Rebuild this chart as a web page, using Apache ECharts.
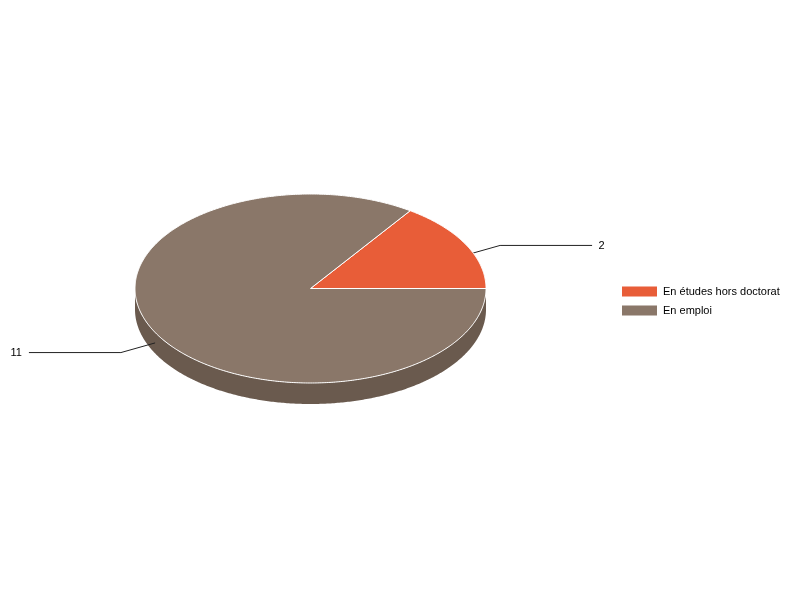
<!DOCTYPE html>
<html>
<head>
<meta charset="utf-8">
<script src="https://cdn.jsdelivr.net/npm/echarts@6/dist/echarts.min.js"></script>
<style>
html, body { margin: 0; padding: 0; background: #fff; }
#main { width: 800px; height: 600px; }
</style>
</head>
<body>
<div id="main"></div>
<script>
var categories = ['En études hors doctorat', 'En emploi'];
var values = [2, 11];
var topColors = ['#E85D38', '#8A7769'];
var sideColors = ['#B5482B', '#6A5A4E'];

var cx = 310.5, cy = 288.5, rx = 175.5, ry = 94.5, depth = 21;

var chart = echarts.init(document.getElementById('main'));

function sliceAngles(i){
	var total = 0, before = 0;
	for (var j = 0; j < values.length; j++){
		total += values[j];
		if (j < i) before += values[j];
	}
	return [before / total * Math.PI * 2, (before + values[i]) / total * Math.PI * 2];
}

function pt(a, dy){
	return [cx + rx * Math.cos(a), cy - ry * Math.sin(a) + (dy || 0)];
}

function arc(a1, a2, dy){
	var pts = [];
	var n = Math.max(2, Math.ceil((a2 - a1) / 0.01));
	for (var k = 0; k <= n; k++){
		pts.push(pt(a1 + (a2 - a1) * k / n, dy));
	}
	return pts;
}

function renderSide(params, api){
	var a = sliceAngles(params.dataIndex);
	var lo = Math.max(a[0], Math.PI), hi = Math.min(a[1], Math.PI * 2);
	if (hi <= lo) return;
	var pts = arc(lo, hi, 0).concat(arc(lo, hi, depth).reverse());
	return {
		type: 'polygon',
		shape: {points: pts},
		style: {fill: sideColors[params.dataIndex], stroke: null}
	};
}

// leader lines sit between the side and the top face
function renderLabel(params, api){
	var a = sliceAngles(params.dataIndex);
	var mid = (a[0] + a[1]) / 2;
	var c = Math.cos(mid), s = Math.sin(mid);
	var anchor = [cx + rx * c, cy - ry * s + depth / 2];
	var elbow = [cx + 1.22 * rx * c, cy - 1.22 * ry * s + depth / 2];
	var right = c >= 0;
	var end = [elbow[0] + (right ? 92 : -92), elbow[1]];
	return {
		type: 'group',
		children: [
			{
				type: 'polyline',
				shape: {points: [anchor, elbow, end]},
				style: {stroke: '#222', lineWidth: 1, fill: null}
			},
			{
				type: 'text',
				style: {
					x: end[0] + (right ? 6.5 : -7),
					y: end[1] + 0.5,
					text: String(api.value(0)),
					align: right ? 'left' : 'right',
					verticalAlign: 'middle',
					fill: '#000',
					font: '11px "Liberation Sans", Arial, sans-serif'
				}
			}
		]
	};
}

function renderTop(params, api){
	var i = params.dataIndex;
	var a = sliceAngles(i);
	var pts = [[cx, cy]].concat(arc(a[0], a[1], 0));
	return {
		type: 'polygon',
		shape: {points: pts},
		style: {fill: topColors[i], stroke: '#fff', lineWidth: 1, lineJoin: 'round'}
	};
}

var option = {
	animation: false,
	color: topColors,
	legend: {
		orient: 'vertical',
		left: 617,
		top: 281,
		icon: 'rect',
		itemWidth: 35,
		itemHeight: 10,
		itemGap: 8,
		selectedMode: false,
		data: categories,
		textStyle: {fontFamily: '"Liberation Sans", Arial, sans-serif', fontSize: 11, color: '#000', padding: [0, 0, 0, 1]}
	},
	series: [
		{
			type: 'custom',
			coordinateSystem: 'none',
			silent: true,
			z: 1,
			renderItem: renderSide,
			data: values
		},
		{
			type: 'custom',
			coordinateSystem: 'none',
			silent: true,
			z: 2,
			renderItem: renderLabel,
			data: values
		},
		{
			type: 'custom',
			coordinateSystem: 'none',
			silent: true,
			z: 3,
			renderItem: renderTop,
			data: values
		},
		{
			// only feeds the legend
			type: 'pie',
			radius: 0,
			silent: true,
			label: {show: false},
			labelLine: {show: false},
			data: categories.map(function(name, i){
				return {name: name, value: values[i], itemStyle: {color: topColors[i]}};
			})
		}
	]
};

chart.setOption(option);
</script>
</body>
</html>
